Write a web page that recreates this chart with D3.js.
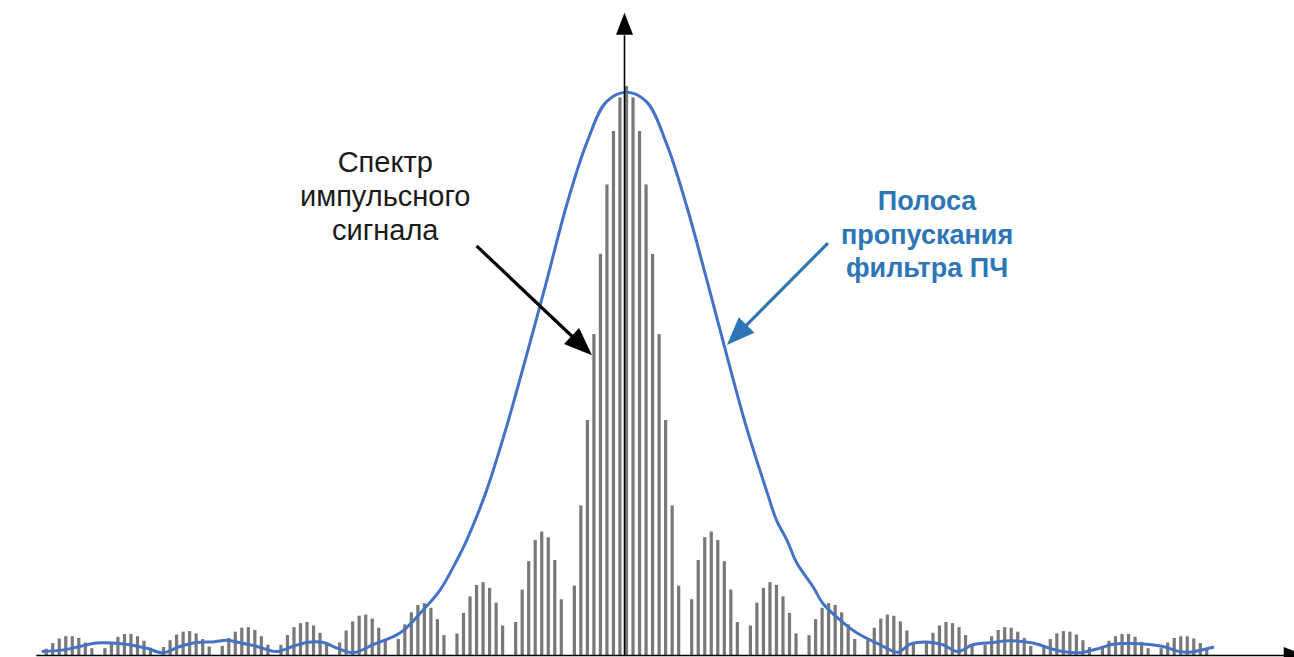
<!DOCTYPE html>
<html>
<head>
<meta charset="utf-8">
<script src="https://cdn.jsdelivr.net/npm/d3@7"></script>
<style>
  html, body { margin: 0; padding: 0; background: #fff; overflow: hidden; }
  svg { display: block; }
</style>
</head>
<body>
<svg id="chart" width="1294" height="657"></svg>
<script>
// Harmonic numbers of the spectral lines (line index relative to the carrier)
const harmonics = d3.range(-89, 90);

// Relative amplitude of every spectral line of the pulse train, k = -89 … 89
const lineAmplitudes = [
  0.011, 0.021, 0.029, 0.033, 0.033, 0.030, 0.022, 0.012, 0.000,
  0.012, 0.023, 0.032, 0.037, 0.037, 0.033, 0.025, 0.013, 0.000,
  0.014, 0.026, 0.036, 0.041, 0.042, 0.038, 0.028, 0.015, 0.000,
  0.016, 0.030, 0.041, 0.048, 0.049, 0.044, 0.033, 0.018, 0.000,
  0.018, 0.035, 0.049, 0.056, 0.058, 0.052, 0.039, 0.021, 0.000,
  0.022, 0.043, 0.059, 0.069, 0.071, 0.064, 0.048, 0.026, 0.000,
  0.028, 0.054, 0.075, 0.088, 0.091, 0.083, 0.063, 0.035, 0.000,
  0.038, 0.074, 0.103, 0.123, 0.128, 0.118, 0.092, 0.052, 0.000,
  0.058, 0.115, 0.165, 0.202, 0.217, 0.207, 0.167, 0.098, 0.000,
  0.122, 0.263, 0.413, 0.564, 0.705, 0.827, 0.921, 0.980,
  1.000,
  0.980, 0.921, 0.827, 0.705, 0.564, 0.413, 0.263, 0.122,
  0.000, 0.098, 0.167, 0.207, 0.217, 0.202, 0.165, 0.115, 0.058,
  0.000, 0.052, 0.092, 0.118, 0.128, 0.123, 0.103, 0.074, 0.038,
  0.000, 0.035, 0.063, 0.083, 0.091, 0.088, 0.075, 0.054, 0.028,
  0.000, 0.026, 0.048, 0.064, 0.071, 0.069, 0.059, 0.043, 0.022,
  0.000, 0.021, 0.039, 0.052, 0.058, 0.056, 0.049, 0.035, 0.018,
  0.000, 0.018, 0.033, 0.044, 0.049, 0.048, 0.041, 0.030, 0.016,
  0.000, 0.015, 0.028, 0.038, 0.042, 0.041, 0.036, 0.026, 0.014,
  0.000, 0.013, 0.025, 0.033, 0.037, 0.037, 0.032, 0.023, 0.012,
  0.000, 0.012, 0.022, 0.030, 0.033, 0.033, 0.029, 0.021, 0.011
];

// IF filter passband: frequency (in line spacings) and relative gain
const filterFreq = [
  -89.7, -86.4, -83.8, -81.3, -78.8, -76.2, -73.6, -71.1, -68.5, -65.9,
  -63.4, -61.3, -59.8, -56.7, -53.7, -51.2, -49.0, -46.5, -44.4, -41.9,
  -38.9, -34.7, -31.2, -28.6, -26.0, -24.5, -21.5, -18.4, -15.3, -12.3,
  -9.2, -6.1, -3.1, 0.0, 3.1, 6.1, 9.2, 12.3, 15.3, 18.4,
  21.5, 23.0, 24.6, 26.1, 28.6, 30.1, 32.2, 35.3, 38.9, 41.6,
  43.5, 46.0, 48.5, 50.8, 53.1, 56.2, 58.8, 62.3, 64.9, 66.9,
  69.6, 72.6, 74.6, 77.2, 79.8, 82.3, 84.9, 86.4, 90.1
];
const filterGain = [
  0.006, 0.009, 0.015, 0.021, 0.021, 0.018, 0.012, 0.004, 0.015, 0.022,
  0.023, 0.026, 0.023, 0.015, 0.006, 0.015, 0.022, 0.022, 0.012, 0.004,
  0.018, 0.039, 0.079, 0.114, 0.167, 0.202, 0.288, 0.401, 0.528, 0.655,
  0.790, 0.900, 0.972, 0.989, 0.972, 0.900, 0.790, 0.660, 0.530, 0.400,
  0.288, 0.237, 0.202, 0.162, 0.120, 0.091, 0.067, 0.039, 0.018, 0.005,
  0.019, 0.023, 0.018, 0.006, 0.018, 0.022, 0.025, 0.021, 0.012, 0.006,
  0.004, 0.012, 0.019, 0.020, 0.019, 0.015, 0.006, 0.005, 0.014
];

// Annotation texts
const spectrumLabel = ["Спектр", "импульсного", "сигнала"];
const filterLabel = ["Полоса", "пропускания", "фильтра ПЧ"];

// ---------------------------------------------------------------
const svg = d3.select("#chart");

const x = d3.scaleLinear().domain([-89, 89]).range([46.2, 1206.8]);
const y = d3.scaleLinear().domain([0, 1]).range([655, 86]);

const BAR_COLOR = "#787878";
const CURVE_COLOR = "#4472C4";
const NOTE_BLUE = "#2E75B6";
const AXIS_COLOR = "#000";

// spectral lines
const lines = harmonics.map((k, i) => ({ k, a: lineAmplitudes[i] })).filter(d => d.a > 0);
svg.append("g")
  .selectAll("rect")
  .data(lines)
  .join("rect")
  .attr("x", d => x(d.k) - 1.6)
  .attr("width", 3.2)
  .attr("y", d => y(d.a))
  .attr("height", d => y(0) - y(d.a))
  .attr("fill", BAR_COLOR);

// IF filter response
const curve = d3.line()
  .x(d => x(d[0]))
  .y(d => y(d[1]))
  .curve(d3.curveCatmullRom.alpha(0.5));
svg.append("path")
  .datum(filterFreq.map((f, i) => [f, filterGain[i]]))
  .attr("d", curve)
  .attr("fill", "none")
  .attr("stroke", CURVE_COLOR)
  .attr("stroke-width", 3)
  .attr("stroke-linejoin", "round");

// axes (no ticks, just arrowed lines)
const xAxisScale = x.copy().domain([-90.6, 100.8]).range([x(-90.6), x(100.8)]);
const gx = svg.append("g")
  .attr("transform", `translate(0,${y(0)})`)
  .call(d3.axisBottom(xAxisScale).tickValues([]).tickSizeOuter(0));
gx.select(".domain").attr("stroke", AXIS_COLOR).attr("stroke-width", 1.6);

const axisX = x(0) - 2.5;
const yAxisScale = y.copy().domain([0, 1.09]).range([y(0), y(1.09)]);
const gy = svg.append("g")
  .attr("transform", `translate(${axisX},0)`)
  .call(d3.axisLeft(yAxisScale).tickValues([]).tickSizeOuter(0));
gy.select(".domain").attr("stroke", AXIS_COLOR).attr("stroke-width", 1.6);

// axis arrowheads
const HEAD_LEN = 22, HEAD_HALF = 8.5;
const xEnd = xAxisScale.range()[1], yAxisY = y(0) + 0.5;
svg.append("path")
  .attr("d", `M${xEnd},${yAxisY - HEAD_HALF}L${xEnd + HEAD_LEN},${yAxisY}L${xEnd},${yAxisY + HEAD_HALF}Z`)
  .attr("fill", AXIS_COLOR);
const yEnd = yAxisScale.range()[1], yAxisX = axisX + 0.5;
svg.append("path")
  .attr("d", `M${yAxisX - HEAD_HALF},${yEnd}L${yAxisX},${yEnd - HEAD_LEN}L${yAxisX + HEAD_HALF},${yEnd}Z`)
  .attr("fill", AXIS_COLOR);

// annotation arrows
function arrow(from, to, color, width, len, half) {
  const x0 = x(from[0]), y0 = y(from[1]), x1 = x(to[0]), y1 = y(to[1]);
  const dx = x1 - x0, dy = y1 - y0, L = Math.hypot(dx, dy);
  const ux = dx / L, uy = dy / L;
  const bx = x1 - ux * len, by = y1 - uy * len;
  svg.append("line")
    .attr("x1", x0).attr("y1", y0)
    .attr("x2", bx + ux * 2).attr("y2", by + uy * 2)
    .attr("stroke", color).attr("stroke-width", width);
  svg.append("path")
    .attr("d", `M${x1},${y1}L${bx - uy * half},${by + ux * half}L${bx + uy * half},${by - ux * half}Z`)
    .attr("fill", color);
}
arrow([-23.0, 0.719], [-5.3, 0.527], "#000", 3.2, 28, 11);
arrow([30.9, 0.724], [15.4, 0.545], NOTE_BLUE, 3.2, 28, 11);

// annotation texts
function label(lines, kx, aFirst, step, opts) {
  const t = svg.append("text")
    .attr("text-anchor", "middle")
    .attr("font-family", "'Liberation Sans', Arial, sans-serif")
    .attr("font-size", opts.size)
    .attr("font-weight", opts.weight)
    .attr("fill", opts.color);
  lines.forEach((s, i) => {
    t.append("tspan")
      .attr("x", x(kx))
      .attr("y", y(aFirst) + i * step)
      .text(s);
  });
}
label(spectrumLabel, -37.0, 0.849, 34, { size: 29, weight: "normal", color: "#1a1a1a" });
label(filterLabel, 46.1, 0.782, 33.5, { size: 27, weight: "bold", color: NOTE_BLUE });
</script>
</body>
</html>
